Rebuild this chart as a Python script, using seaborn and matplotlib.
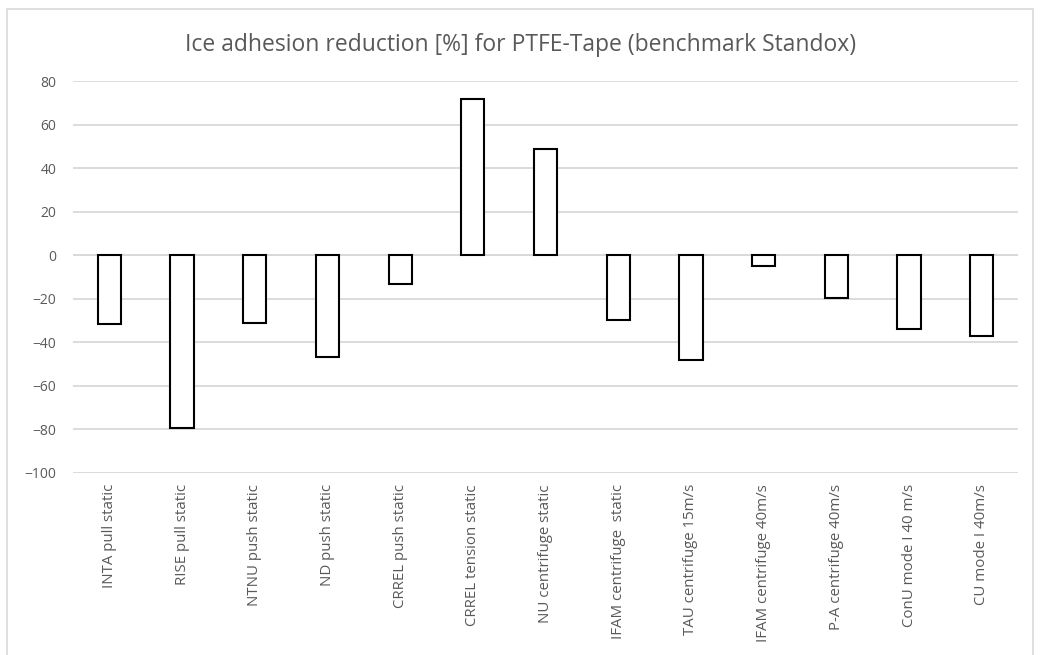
import numpy as np
import pandas as pd
import matplotlib
matplotlib.use("Agg")
import matplotlib.pyplot as plt
import seaborn as sns
from matplotlib.patches import Rectangle

categories = ["INTA pull static", "RISE pull static", "NTNU push static", "ND push static",
              "CRREL push static", "CRREL tension static", "NU centrifuge static",
              "IFAM centrifuge  static", "TAU centrifuge 15m/s", "IFAM centrifuge 40m/s",
              "P-A centrifuge 40m/s", "ConU mode I 40 m/s", "CU mode I 40m/s"]
reduction = [-31.5, -79.5, -31, -46.8, -13.1, 72, 49, -29.5, -48, -5, -19.4, -33.7, -37]
y_ticks = [-100, -80, -60, -40, -20, 0, 20, 40, 60, 80]

df = pd.DataFrame({"Test": categories, "Reduction": reduction})

sns.set_style("white")
plt.rcParams["font.family"] = ["Open Sans", "DejaVu Sans"]
grey = "#595959"

fig = plt.figure(figsize=(10.41, 6.55), dpi=100)
ax = fig.add_axes([0.0701, 0.2779, 0.9079, 0.5977])

ax.yaxis.grid(True, color="#d9d9d9", linewidth=1.3)
ax.set_axisbelow(True)
sns.barplot(data=df, x="Test", y="Reduction", color="white", saturation=1,
            edgecolor="black", linewidth=1.5, width=0.32, ax=ax)

ax.set_ylim(-100, 80)
ax.set_yticks(y_ticks)
ax.set_xlim(-0.5, len(categories) - 0.5)
ax.axhline(0, color="#d9d9d9", linewidth=1.3, zorder=0.5)
ax.tick_params(axis="y", labelsize=10, colors=grey, length=0, pad=12)
ax.tick_params(axis="x", labelsize=10.8, colors=grey, length=0, pad=8)
ax.set_xticks(range(len(categories)))
ax.set_xticklabels(categories, rotation=90, va="top")
ax.set_xlabel("")
ax.set_ylabel("")
for s in ax.spines.values():
    s.set_visible(False)

fig.text(0.5, 1 - 45 / 655, "Ice adhesion reduction [%] for PTFE-Tape (benchmark Standox)",
         fontsize=16.5, color=grey, ha="center", va="center")

# chart area border
W, H = 1041, 655
fig.patches.append(Rectangle((7 / W, -0.02), (1033 - 7) / W, (H - 9) / H + 0.02,
                             transform=fig.transFigure, fill=False,
                             edgecolor="#d9d9d9", linewidth=1.2))

fig.savefig("out.png", dpi=100)
